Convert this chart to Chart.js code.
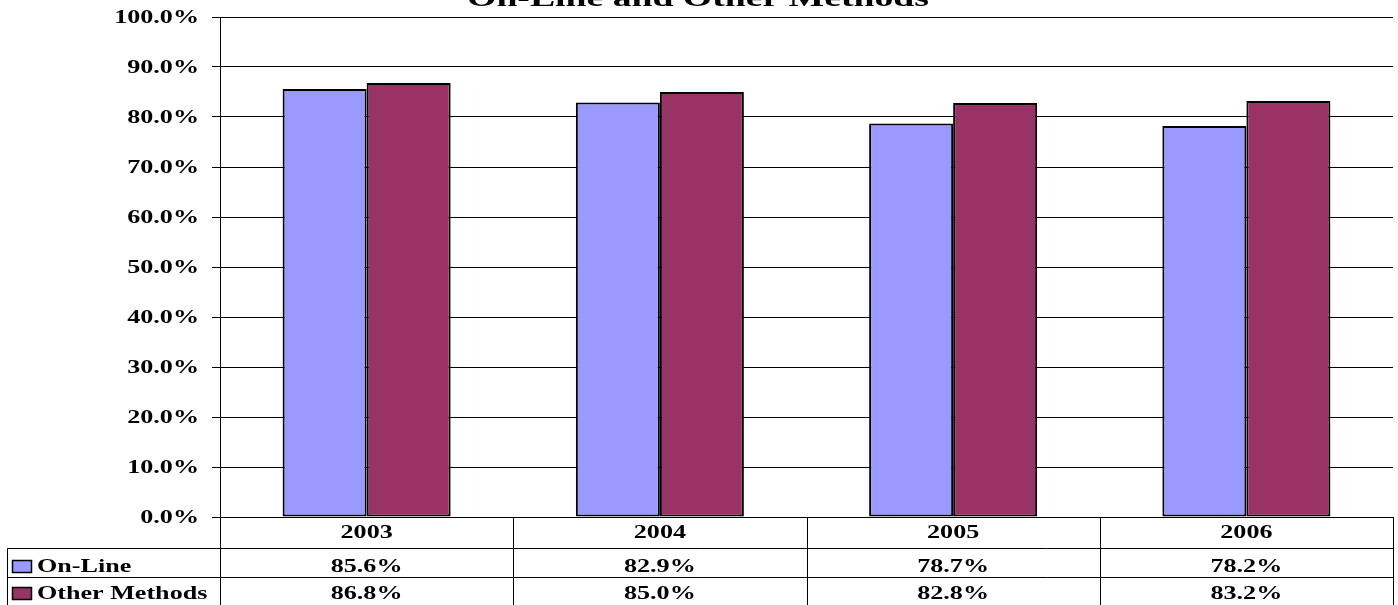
<!DOCTYPE html>
<html>
<head>
<meta charset="utf-8">
<title>On-Line and Other Methods</title>
<script src="https://cdn.jsdelivr.net/npm/chart.js@4.4.1/dist/chart.umd.min.js"></script>
<style>
    body { margin: 0; background: #fff; }
    #wrap { width: 1398px; height: 605px; }
</style>
</head>
<body>
<div id="wrap"><canvas id="chart" width="1398" height="605"></canvas></div>
<script>
// values
const years = ['2003', '2004', '2005', '2006'];
const onLine = [85.6, 82.9, 78.7, 78.2];
const otherMethods = [86.8, 85.0, 82.8, 83.2];
const seriesNames = ['On-Line', 'Other Methods'];
const seriesColors = ['#9999FF', '#993366'];

// text is drawn a bit wider than tall, like the old spreadsheet export
const STRETCH = 1.45;
const FONT = '"Liberation Serif", "Times New Roman", serif';

function drawText(ctx, str, x, y, size, align, baseline) {
    ctx.save();
    ctx.translate(x, y);
    ctx.scale(STRETCH, 1);
    ctx.font = `bold ${size}px ${FONT}`;
    ctx.fillStyle = '#000';
    ctx.textAlign = align;
    ctx.textBaseline = baseline || 'middle';
    ctx.fillText(str, 0, 0);
    ctx.restore();
}

function line(ctx, x1, y1, x2, y2) {
    ctx.beginPath();
    ctx.moveTo(x1, y1);
    ctx.lineTo(x2, y2);
    ctx.stroke();
}

// title, y labels and the data table under the plot
const tablePlugin = {
    id: 'tablePlugin',
    afterDraw(chart) {
        const ctx = chart.ctx;
        const area = chart.chartArea;
        const xs = chart.scales.x;
        const ys = chart.scales.y;

        drawText(ctx, 'On-Line and Other Methods', 698, 6, 26, 'center', 'alphabetic');

        ys.ticks.forEach(t => {
            drawText(ctx, t.value.toFixed(1) + '%', 199, ys.getPixelForValue(t.value) + 1, 18, 'right');
        });

        const rowTop = area.bottom;
        const row1 = 548.5, row2 = 577.5, bottom = 605;
        const legendLeft = 7.5;

        ctx.save();
        ctx.strokeStyle = '#000';
        ctx.lineWidth = 1;
        line(ctx, legendLeft, row1, area.right, row1);
        line(ctx, legendLeft, row2, area.right, row2);
        line(ctx, legendLeft, row1, legendLeft, bottom);
        line(ctx, Math.round(area.left) + 0.5, rowTop, Math.round(area.left) + 0.5, bottom);
        for (let i = 0; i < years.length; i++) {
            let edge = i < years.length - 1
                ? (xs.getPixelForValue(i) + xs.getPixelForValue(i + 1)) / 2
                : area.right;
            edge = Math.round(edge) + 0.5;
            line(ctx, edge, rowTop, edge, bottom);
        }
        ctx.restore();

        const rows = [onLine, otherMethods];
        const rowY = [567, 594];
        years.forEach((yr, i) => {
            const cx = xs.getPixelForValue(i);
            drawText(ctx, yr, cx, 533, 18, 'center');
            rows.forEach((vals, r) => {
                drawText(ctx, vals[i].toFixed(1) + '%', cx, rowY[r], 18, 'center');
            });
        });

        // legend keys in the first column
        seriesNames.forEach((name, r) => {
            ctx.save();
            ctx.fillStyle = seriesColors[r];
            ctx.strokeStyle = '#000';
            ctx.lineWidth = 1.5;
            ctx.fillRect(12.5, rowY[r] - 6.5, 19, 12);
            ctx.strokeRect(12.5, rowY[r] - 6.5, 19, 12);
            ctx.restore();
            drawText(ctx, name, 37, rowY[r], 18, 'left');
        });
    }
};

new Chart(document.getElementById('chart'), {
    type: 'bar',
    data: {
        labels: years,
        datasets: [
            {
                label: seriesNames[0],
                data: onLine,
                backgroundColor: seriesColors[0],
                borderColor: '#000',
                borderWidth: 2,
                borderSkipped: false,
                categoryPercentage: 0.573,
                barPercentage: 1.0
            },
            {
                label: seriesNames[1],
                data: otherMethods,
                backgroundColor: seriesColors[1],
                borderColor: '#000',
                borderWidth: 2,
                borderSkipped: false,
                categoryPercentage: 0.573,
                barPercentage: 1.0
            }
        ]
    },
    options: {
        responsive: false,
        animation: false,
        devicePixelRatio: 1,
        layout: { padding: { top: 17, bottom: 88, left: 0, right: 5 } },
        plugins: {
            legend: { display: false },
            title: { display: false },
            tooltip: { enabled: false }
        },
        scales: {
            x: {
                display: false
            },
            y: {
                min: 0,
                max: 100,
                ticks: { stepSize: 10, display: false },
                grid: { color: '#000', lineWidth: 1, tickLength: 8, drawTicks: true },
                border: { display: true, color: '#000', width: 1 },
                afterFit(scale) { scale.width = 220; }
            }
        }
    },
    plugins: [tablePlugin]
});
</script>
</body>
</html>
